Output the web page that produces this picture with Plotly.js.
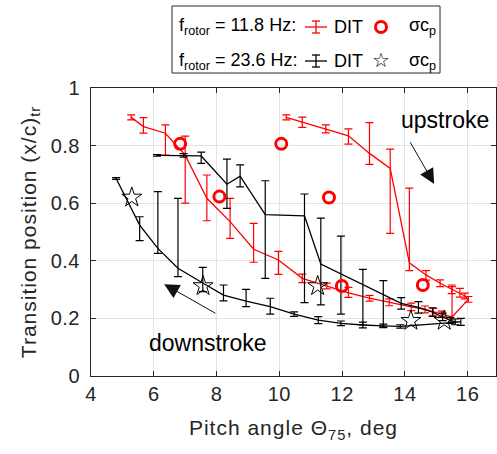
<!DOCTYPE html>
<html>
<head>
<meta charset="utf-8">
<script src="https://cdn.plot.ly/plotly-3.0.1.min.js"></script>
<style>
html,body{margin:0;padding:0;background:#fff;}
#chart{width:497px;height:454px;}
.xtick text, .ytick text { letter-spacing: 0.5px; }
text.xtitle, text.ytitle { letter-spacing: 1px; }
</style>
</head>
<body>
<div id="chart"></div>
<script>
// f_rotor = 11.8 Hz, DIT (upstroke then downstroke)
const redX = [10.22, 10.73, 11.48, 12.20, 12.87, 13.53, 14.14, 14.67, 15.12, 15.49, 15.75, 15.91, 16.02,
              15.50, 15.17, 14.90, 14.64, 14.20, 13.50, 12.87, 12.20, 11.51, 10.73, 9.97, 9.18, 8.43, 7.69, 7.00, 6.37, 5.67, 5.28];
const redY = [0.898, 0.881, 0.858, 0.834, 0.773, 0.721, 0.393, 0.351, 0.322, 0.301, 0.289, 0.278, 0.266,
              0.205, 0.215, 0.223, 0.231, 0.240, 0.256, 0.270, 0.289, 0.3125, 0.339, 0.403, 0.440, 0.536, 0.617, 0.767, 0.843, 0.866, 0.898];
const redErrPlus = [0.009, 0.018, 0.014, 0.024, 0.107, 0.067, 0.259, 0.015, 0.012, 0.015, 0.015, 0.010, 0.010,
              0.105, 0.010, 0.012, 0.012, 0.013, 0.012, 0.010, 0.019, 0.010, 0.015, 0.030, 0.090, 0.081, 0.081, 0.066, 0.029, 0.031, 0.009];
const redErrMinus = [0.009, 0.018, 0.014, 0.029, 0.038, 0.226, 0.027, 0.018, 0.012, 0.015, 0.015, 0.010, 0.010,
              0.020, 0.010, 0.012, 0.012, 0.013, 0.012, 0.010, 0.016, 0.010, 0.015, 0.050, 0.045, 0.058, 0.078, 0.167, 0.076, 0.023, 0.009];

// f_rotor = 23.6 Hz, DIT (upstroke then downstroke)
const blackX = [6.10, 6.95, 7.51, 8.33, 8.75, 9.55, 10.80, 11.32, 11.96, 12.66, 13.31, 13.88, 14.43, 14.88, 15.20, 15.44, 15.60, 15.78,
                14.30, 13.85, 13.31, 12.66, 11.96, 11.24, 10.47, 9.71, 8.94, 8.22, 7.56, 6.77, 6.13, 5.55, 4.80];
const blackY = [0.766, 0.766, 0.764, 0.666, 0.694, 0.560, 0.556, 0.389, 0.355, 0.317, 0.281, 0.252, 0.238, 0.222, 0.205, 0.193, 0.188, 0.188,
                0.176, 0.172, 0.174, 0.177, 0.183, 0.194, 0.215, 0.241, 0.260, 0.281, 0.323, 0.374, 0.443, 0.524, 0.686];
const blackErrPlus = [0.003, 0.006, 0.013, 0.087, 0.039, 0.118, 0.076, 0.159, 0.131, 0.053, 0.050, 0.020, 0.020, 0.015, 0.013, 0.010, 0.010, 0.012,
                0.000, 0.006, 0.006, 0.010, 0.008, 0.012, 0.008, 0.029, 0.041, 0.035, 0.054, 0.243, 0.197, 0.029, 0.003];
const blackErrMinus = [0.003, 0.006, 0.026, 0.084, 0.037, 0.221, 0.301, 0.142, 0.140, 0.140, 0.110, 0.020, 0.020, 0.015, 0.013, 0.010, 0.010, 0.012,
                0.000, 0.006, 0.006, 0.010, 0.008, 0.012, 0.008, 0.026, 0.019, 0.020, 0.030, 0.029, 0.017, 0.054, 0.003];

// sigma c_p markers
const circleX = [6.84, 8.09, 10.06, 11.58, 11.99, 14.57];
const circleY = [0.806, 0.623, 0.806, 0.620, 0.3125, 0.316];
const starX = [5.30, 7.57, 11.22, 14.19, 15.25];
const starY = [0.620, 0.3125, 0.3125, 0.192, 0.192];

const xTicks = [4, 6, 8, 10, 12, 14, 16];
const yTicks = [0, 0.2, 0.4, 0.6, 0.8, 1];
const yTickText = ['0', '0.2', '0.4', '0.6', '0.8', '1'];

const FONT = 'Liberation Sans, Arial, Helvetica, sans-serif';
const TXT = '#262626';
const RED = '#ff0000';

const traces = [
  {x: redX, y: redY, type: 'scatter', mode: 'lines', line: {color: RED, width: 1.3},
   error_y: {type: 'data', symmetric: false, array: redErrPlus, arrayminus: redErrMinus, color: RED, thickness: 1.2, width: 4},
   showlegend: false, hoverinfo: 'skip'},
  {x: blackX, y: blackY, type: 'scatter', mode: 'lines', line: {color: '#000', width: 1.3},
   error_y: {type: 'data', symmetric: false, array: blackErrPlus, arrayminus: blackErrMinus, color: '#000', thickness: 1.2, width: 4},
   showlegend: false, hoverinfo: 'skip'},
  {x: circleX, y: circleY, type: 'scatter', mode: 'markers',
   marker: {symbol: 'circle-open', size: 11, color: RED, line: {color: RED, width: 3}}, showlegend: false},
  {x: starX, y: starY, type: 'scatter', mode: 'markers',
   marker: {symbol: 'star-open', size: 15, color: '#000', line: {color: '#000', width: 1}}, showlegend: false}
];

// Legend drawn in paper coordinates (plot area: 91..496 px, 88..376 px)
const L = 91, R = 496, T = 88, B = 376;
const px = v => (v - L) / (R - L);
const py = v => (B - v) / (B - T);

function errSymbol(cx, cy, col) {
  return [
    {type: 'line', xref: 'paper', yref: 'paper', x0: px(cx - 11), x1: px(cx + 11), y0: py(cy), y1: py(cy), line: {color: col, width: 1.3}},
    {type: 'line', xref: 'paper', yref: 'paper', x0: px(cx), x1: px(cx), y0: py(cy - 6), y1: py(cy + 6), line: {color: col, width: 1.3}},
    {type: 'line', xref: 'paper', yref: 'paper', x0: px(cx - 4), x1: px(cx + 4), y0: py(cy - 6), y1: py(cy - 6), line: {color: col, width: 1.3}},
    {type: 'line', xref: 'paper', yref: 'paper', x0: px(cx - 4), x1: px(cx + 4), y0: py(cy + 6), y1: py(cy + 6), line: {color: col, width: 1.3}}
  ];
}

const shapes = [
  {type: 'rect', xref: 'paper', yref: 'paper', x0: px(172), x1: px(440), y0: py(6), y1: py(73),
   line: {color: TXT, width: 1}, fillcolor: '#fff', layer: 'above'},
  ...errSymbol(316, 27, RED),
  ...errSymbol(316, 61, '#000'),
  {type: 'circle', xref: 'paper', yref: 'paper', x0: px(375.5), x1: px(386.5), y0: py(21.5), y1: py(32.5),
   line: {color: RED, width: 3}}
];

const legFont = {family: FONT, size: 18, color: '#000'};
const annotations = [
  {xref: 'paper', yref: 'paper', x: px(177), y: py(27), xanchor: 'left', yanchor: 'middle', showarrow: false,
   text: 'f<sub>rotor</sub> = 11.8 Hz:', font: legFont},
  {xref: 'paper', yref: 'paper', x: px(332), y: py(27), xanchor: 'left', yanchor: 'middle', showarrow: false,
   text: 'DIT', font: legFont},
  {xref: 'paper', yref: 'paper', x: px(407), y: py(27), xanchor: 'left', yanchor: 'middle', showarrow: false,
   text: 'σc<sub>p</sub>', font: legFont},
  {xref: 'paper', yref: 'paper', x: px(177), y: py(61), xanchor: 'left', yanchor: 'middle', showarrow: false,
   text: 'f<sub>rotor</sub> = 23.6 Hz:', font: legFont},
  {xref: 'paper', yref: 'paper', x: px(332), y: py(61), xanchor: 'left', yanchor: 'middle', showarrow: false,
   text: 'DIT', font: legFont},
  {xref: 'paper', yref: 'paper', x: px(381), y: py(60), xanchor: 'center', yanchor: 'middle', showarrow: false,
   text: '☆', font: {family: 'DejaVu Sans', size: 20, color: '#000'}},
  {xref: 'paper', yref: 'paper', x: px(407), y: py(61), xanchor: 'left', yanchor: 'middle', showarrow: false,
   text: 'σc<sub>p</sub>', font: legFont},
  // stroke labels and arrows
  {x: 15.28, y: 0.889, xref: 'x', yref: 'y', showarrow: false, text: 'upstroke',
   font: {family: FONT, size: 23, color: '#000'}},
  {x: 7.74, y: 0.115, xref: 'x', yref: 'y', showarrow: false, text: 'downstroke',
   font: {family: FONT, size: 23, color: '#000'}},
  {x: 14.93, y: 0.667, ax: 14.14, ay: 0.817, xref: 'x', yref: 'y', axref: 'x', ayref: 'y', text: '',
   showarrow: true, arrowhead: 2, arrowsize: 3, arrowwidth: 1, arrowcolor: '#111'},
  {x: 6.33, y: 0.319, ax: 8.01, ay: 0.215, xref: 'x', yref: 'y', axref: 'x', ayref: 'y', text: '',
   showarrow: true, arrowhead: 2, arrowsize: 3, arrowwidth: 1, arrowcolor: '#111'}
];

const axisCommon = {
  showline: true, linecolor: TXT, linewidth: 1, mirror: 'ticks',
  ticks: 'inside', ticklen: 5, tickcolor: TXT, tickwidth: 1,
  showgrid: true, gridcolor: '#e3e3e3', gridwidth: 1, zeroline: false,
  tickfont: {family: FONT, size: 20, color: TXT}
};

const layout = {
  width: 497, height: 454,
  margin: {l: L, r: 497 - R, t: T, b: 454 - B, pad: 0},
  paper_bgcolor: '#fff', plot_bgcolor: '#fff',
  showlegend: false,
  xaxis: Object.assign({}, axisCommon, {
    range: [4, 16.9], tickmode: 'array', tickvals: xTicks, ticktext: xTicks.map(String),
    title: {text: 'Pitch angle Θ<sub>75</sub>, deg', font: {family: FONT, size: 21, color: TXT}, standoff: 16}
  }),
  yaxis: Object.assign({}, axisCommon, {
    range: [0, 1], tickmode: 'array', tickvals: yTicks, ticktext: yTickText, ticklabelstandoff: 6,
    title: {text: 'Transition position (x/c)<sub>tr</sub>', font: {family: FONT, size: 21, color: TXT}, standoff: 8}
  }),
  shapes: shapes,
  annotations: annotations
};

Plotly.newPlot('chart', traces, layout, {displayModeBar: false, staticPlot: true}).then(gd => {
  // drop empty placeholder text nodes (e.g. text of arrow-only annotations)
  gd.querySelectorAll('svg text').forEach(t => {
    if (!t.textContent.trim()) t.remove();
  });
});
</script>
</body>
</html>
